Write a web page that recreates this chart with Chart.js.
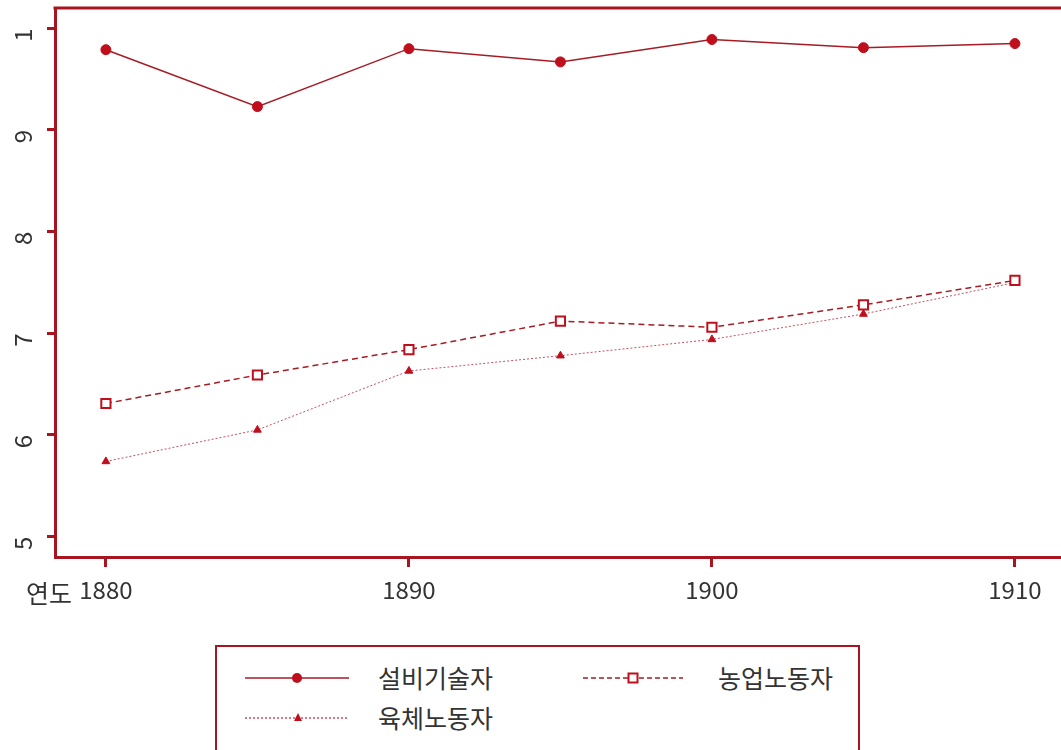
<!DOCTYPE html>
<html>
<head>
<meta charset="utf-8">
<script src="https://cdn.jsdelivr.net/npm/chart.js@4/dist/chart.umd.min.js"></script>
<style>
  body { margin: 0; background: #fff; width: 1061px; height: 750px; overflow: hidden; position: relative; font-family: "Noto Sans CJK KR", sans-serif; }
  #wrap { position: absolute; left: 0; top: 0; width: 1061px; height: 620px; }
  #legend { position: absolute; left: 215px; top: 645px; width: 641px; height: 130px; border: 2px solid #a8141f; }
  .sample { position: absolute; }
  .lbl { position: absolute; font-size: 25px; color: #333; line-height: 30px; }
</style>
</head>
<body>
<div id="wrap"><canvas id="chart"></canvas></div>
<div id="legend"></div>
<script>
const years = [1880, 1885, 1890, 1895, 1900, 1905, 1910];
const xTicks = [1880, 1890, 1900, 1910];
const yTicks = [5, 6, 7, 8, 9, 10];
const yTickLabels = ['5', '6', '7', '8', '9', '1']; // top label is cut off in the original
const xAxisName = '연도';

const seriesNames = ['설비기술자', '농업노동자', '육체노동자'];
const engineers = [9.79, 9.23, 9.80, 9.67, 9.89, 9.81, 9.85];
const farmWorkers = [6.31, 6.59, 6.84, 7.12, 7.06, 7.28, 7.52];
const manualWorkers = [5.74, 6.05, 6.63, 6.78, 6.94, 7.19, 7.50];

const axisColor = '#a8141f';
const lineColor = '#a51c24';
const markColor = '#bf0f1c';
const textColor = '#333';
const font = { family: '"Noto Sans CJK KR", sans-serif', size: 24 };

const frame = {
  id: 'frame',
  afterDraw(chart) {
    const { ctx, chartArea } = chart;
    ctx.save();
    ctx.strokeStyle = axisColor;
    ctx.lineWidth = 3;
    ctx.beginPath();
    ctx.moveTo(chartArea.left - 1.5, chartArea.top);
    ctx.lineTo(chartArea.right, chartArea.top);
    ctx.stroke();
    // "연도" sits left of the first year label
    const x = chart.scales.x.getPixelForValue(xTicks[0]);
    ctx.font = '25px "Noto Sans CJK KR"';
    ctx.fillStyle = textColor;
    ctx.textAlign = 'right';
    ctx.textBaseline = 'middle';
    ctx.fillText(xAxisName, x - 34, 593);
    ctx.restore();
  }
};

const toPts = vals => vals.map((v, i) => ({ x: years[i], y: v }));

new Chart(document.getElementById('chart').getContext('2d'), {
  type: 'line',
  data: {
    datasets: [{
      label: seriesNames[0],
      data: toPts(engineers),
      borderColor: lineColor,
      borderWidth: 1.5,
      pointStyle: 'circle',
      pointRadius: 5,
      pointBackgroundColor: markColor,
      pointBorderColor: markColor,
      pointBorderWidth: 1
    }, {
      label: seriesNames[1],
      data: toPts(farmWorkers),
      borderColor: lineColor,
      borderWidth: 1.5,
      borderDash: [6, 4],
      pointStyle: 'rect',
      pointRadius: 6.5,
      pointBackgroundColor: '#fff',
      pointBorderColor: markColor,
      pointBorderWidth: 2
    }, {
      label: seriesNames[2],
      data: toPts(manualWorkers),
      borderColor: '#c4505e',
      borderWidth: 1,
      borderDash: [2, 2],
      pointStyle: 'triangle',
      pointRadius: 4.5,
      pointBackgroundColor: markColor,
      pointBorderColor: markColor,
      pointBorderWidth: 1
    }]
  },
  options: {
    responsive: true,
    maintainAspectRatio: false,
    animation: false,
    layout: { autoPadding: false, padding: { top: 8, right: 0, bottom: 0, left: 0 } },
    plugins: { legend: { display: false }, tooltip: { enabled: false } },
    scales: {
      x: {
        type: 'linear',
        min: 1878.32,
        max: 1911.52,
        afterBuildTicks: s => { s.ticks = xTicks.map(v => ({ value: v })); },
        afterFit: s => { s.height = 63; s.paddingLeft = 0; s.paddingRight = 0; },
        grid: { display: true, drawOnChartArea: false, drawTicks: true, tickLength: 10, tickWidth: 3, tickColor: axisColor },
        border: { display: true, color: axisColor, width: 3 },
        ticks: { color: textColor, font: font, padding: 8, maxRotation: 0, callback: v => String(v) }
      },
      y: {
        min: 4.80,
        max: 10.20,
        afterBuildTicks: s => { s.ticks = yTicks.map(v => ({ value: v })); },
        afterFit: s => { s.width = 55; s.paddingTop = 0; s.paddingBottom = 0; },
        grid: { display: true, drawOnChartArea: false, drawTicks: true, tickLength: 8, tickWidth: 3, tickColor: axisColor },
        border: { display: true, color: axisColor, width: 3 },
        ticks: { color: textColor, font: font, padding: 24, minRotation: 90, maxRotation: 90,
          callback: v => yTickLabels[yTicks.indexOf(v)] }
      }
    }
  },
  plugins: [frame]
});

// legend, built as html with small svg samples
const legendItems = [
  { name: seriesNames[0], left: 28, top: 31, w: 104, textLeft: 161, dash: '', color: lineColor,
    mark: '<circle cx="52" cy="10" r="5" fill="' + markColor + '"/>' },
  { name: seriesNames[1], left: 366, top: 31, w: 100, textLeft: 501, dash: '5 3', color: lineColor,
    mark: '<rect x="45.5" y="5.5" width="9" height="9" fill="#fff" stroke="' + markColor + '" stroke-width="2"/>' },
  { name: seriesNames[2], left: 28, top: 71, w: 104, textLeft: 161, dash: '2 2', color: '#c4505e',
    mark: '<polygon points="53,5 57,13 49,13" fill="' + markColor + '"/>' }
];
const legend = document.getElementById('legend');
legendItems.forEach(it => {
  const svg = `<svg class="sample" style="left:${it.left}px;top:${it.top - 10}px" width="${it.w}" height="20">
    <line x1="0" y1="10" x2="${it.w}" y2="10" stroke="${it.color}" stroke-width="1.5" ${it.dash ? `stroke-dasharray="${it.dash}"` : ''}/>
    ${it.mark}</svg>`;
  legend.insertAdjacentHTML('beforeend', svg);
  legend.insertAdjacentHTML('beforeend', `<div class="lbl" style="left:${it.textLeft}px;top:${it.top - 16}px">${it.name}</div>`);
});
</script>
</body>
</html>
